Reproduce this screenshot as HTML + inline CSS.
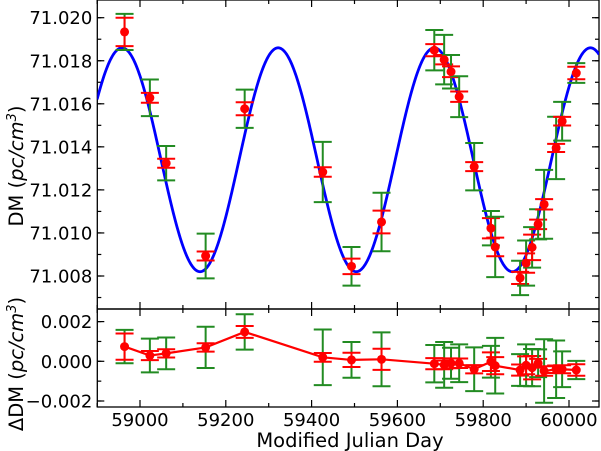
<!DOCTYPE html>
<html><head><meta charset="utf-8"><style>
html,body{margin:0;padding:0;background:#fff;}
svg{display:block;font-family:"DejaVu Sans","Liberation Sans",sans-serif;}
</style></head><body>
<svg id="chart" width="601" height="451" viewBox="0 0 601 451" xmlns="http://www.w3.org/2000/svg">
<g id="topPanel"></g>
<g id="botPanel"></g>
<text x="350" y="447" font-size="19.5" text-anchor="middle">Modified Julian Day</text>
<text transform="translate(23,166) rotate(-90)" font-size="19.5" text-anchor="middle">DM (<tspan font-style="italic">pc/cm</tspan><tspan font-size="13" dy="-7" font-style="italic">3</tspan><tspan dy="7">)</tspan></text>
<text transform="translate(23,364) rotate(-90)" font-size="19.5" text-anchor="middle">ΔDM (<tspan font-style="italic">pc/cm</tspan><tspan font-size="13" dy="-7" font-style="italic">3</tspan><tspan dy="7">)</tspan></text>
</svg>
<script>
const mjd=[58964,59023,59061,59153,59244,59426,59493,59563,59686,59709,59725,59744,59779,59818,59828,59886,59900,59914,59928,59942,59970,59984,60017];
const dm=[71.01934,71.01628,71.01324,71.00893,71.01577,71.01283,71.00845,71.01051,71.01849,71.01805,71.01749,71.01633,71.01308,71.01022,71.00935,71.00791,71.0086,71.00933,71.0104,71.01133,71.01395,71.01519,71.01743];
const errRed=[0.00066,0.00023,0.00021,0.00021,0.0003,0.00022,0.00036,0.00053,0.00028,0.00022,0.00025,0.00024,0.00021,0.00047,0.00043,0.00028,0.00045,0.00059,0.00022,0.00024,0.00019,0.0002,0.00029];
const errGreen=[0.00084,0.00085,0.0008,0.00104,0.00089,0.0014,0.0009,0.00136,0.00094,0.00115,0.00078,0.00095,0.0011,0.0008,0.0014,0.0008,0.00105,0.00094,0.0007,0.0016,0.00145,0.0009,0.00046];
const resid=[0.00074,0.00029,0.0004,0.0007,0.00148,0.0002,0.00007,0.0001,-0.00012,-0.00018,-0.0001,-0.0001,-0.0004,-0.00002,-0.00022,-0.00044,-0.0002,-0.00032,-0.0001,-0.00049,-0.0004,-0.0004,-0.00044];
const modelMean=71.0134, modelAmp=0.0052, modelPeriod=364, modelPeak=58958;
const xTicks=[59000,59200,59400,59600,59800,60000];
const yTopTicks=[71.008,71.010,71.012,71.014,71.016,71.018,71.020];
const yBotTicks=[-0.002,0,0.002];
const yBotLabels=["\u22120.002","0.000","0.002"];

const NS="http://www.w3.org/2000/svg";
const L=97.3,R=599,T1=0,B1=309,T2=309,B2=407;
const X=v=>140+(v-59000)*0.429;
const Y1=v=>17.7+(71.020-v)*21525;
const Y2=v=>361.3-v*19850;
function mk(p,tag,a){const e=document.createElementNS(NS,tag);for(const k in a)e.setAttribute(k,a[k]);p.appendChild(e);return e;}
const topG=document.getElementById('topPanel'),botG=document.getElementById('botPanel');

function frame(g,t,b,Y,ticks,labels,minorStep,lo,hi){
  const f=mk(g,'rect',{x:L,y:t,width:R-L,height:b-t,fill:'none',stroke:'#000','stroke-width':1.3});
  
  
  for(let v=58900;v<=60070;v+=100){const x=X(v);const big=(v%200===0);const len=big?7:4;
    mk(g,'line',{x1:x,x2:x,y1:b,y2:b-len,stroke:'#000','stroke-width':1.2});
    mk(g,'line',{x1:x,x2:x,y1:t,y2:t+len,stroke:'#000','stroke-width':1.2});}
  for(let k=Math.round(lo/minorStep);k<=Math.round(hi/minorStep);k++){const v=k*minorStep;const y=Y(v);if(y<t||y>b)continue;
    mk(g,'line',{x1:L,x2:L+4,y1:y,y2:y,stroke:'#000','stroke-width':1.2});
    mk(g,'line',{x1:R,x2:R-4,y1:y,y2:y,stroke:'#000','stroke-width':1.2});}
  ticks.forEach((v,i)=>{const y=Y(v);
    mk(g,'line',{x1:L,x2:L+7,y1:y,y2:y,stroke:'#000','stroke-width':1.2});
    mk(g,'line',{x1:R,x2:R-7,y1:y,y2:y,stroke:'#000','stroke-width':1.2});
    const tx=mk(g,'text',{x:L-5,y:y+6.5,'font-size':18,'text-anchor':'end'});tx.textContent=labels[i];
    
    });
}
frame(topG,T1,B1,Y1,yTopTicks,yTopTicks.map(v=>v.toFixed(3)),0.001,71.006,71.021);
frame(botG,T2,B2,Y2,yBotTicks,yBotLabels,0.001,-0.003,0.003);
xTicks.forEach(v=>{const t=mk(botG,'text',{x:X(v),y:426,'font-size':18,'text-anchor':'middle'});t.textContent=String(v);
  
  });

let d='';for(let v=58900;v<=60070;v+=2){const y=modelMean+modelAmp*Math.cos(2*Math.PI*(v-modelPeak)/modelPeriod);d+=(d?'L':'M')+X(v).toFixed(2)+','+Y1(y).toFixed(2);}
const cp=mk(topG,'clipPath',{id:'c1'});mk(cp,'rect',{x:L,y:T1,width:R-L,height:B1-T1});
const curve=mk(topG,'path',{d:d,fill:'none',stroke:'#0000ff','stroke-width':2.8,'clip-path':'url(#c1)'});



function bars(g,Y,vals,name){
  mjd.forEach((m,i)=>{const x=X(m);
    const gg=mk(g,'g',{});
    
    
    const eg=errGreen[i],er=errRed[i];
    const yg1=Y(vals[i]+eg),yg2=Y(vals[i]-eg),yr1=Y(vals[i]+er),yr2=Y(vals[i]-er);
    mk(gg,'line',{x1:x,x2:x,y1:yg1,y2:yg2,stroke:'#228b22','stroke-width':2});
    mk(gg,'line',{x1:x-9,x2:x+9,y1:yg1,y2:yg1,stroke:'#228b22','stroke-width':2});
    mk(gg,'line',{x1:x-9,x2:x+9,y1:yg2,y2:yg2,stroke:'#228b22','stroke-width':2});
    mk(gg,'line',{x1:x,x2:x,y1:yr1,y2:yr2,stroke:'#ff0000','stroke-width':2});
    mk(gg,'line',{x1:x-9,x2:x+9,y1:yr1,y2:yr1,stroke:'#ff0000','stroke-width':2});
    mk(gg,'line',{x1:x-9,x2:x+9,y1:yr2,y2:yr2,stroke:'#ff0000','stroke-width':2});
  });
}
bars(topG,Y1,dm,'dm-errorbar');
bars(botG,Y2,resid,'residual-errorbar');
const rl=mk(botG,'polyline',{points:mjd.map((m,i)=>X(m)+','+Y2(resid[i])).join(' '),fill:'none',stroke:'#ff0000','stroke-width':2.2});


mjd.forEach((m,i)=>{
  const c=mk(topG,'circle',{cx:X(m),cy:Y1(dm[i]),r:4.5,fill:'#ff0000'});
  
  
  const c2=mk(botG,'circle',{cx:X(m),cy:Y2(resid[i]),r:4.5,fill:'#ff0000'});
  
  
});
</script>
</body></html>
